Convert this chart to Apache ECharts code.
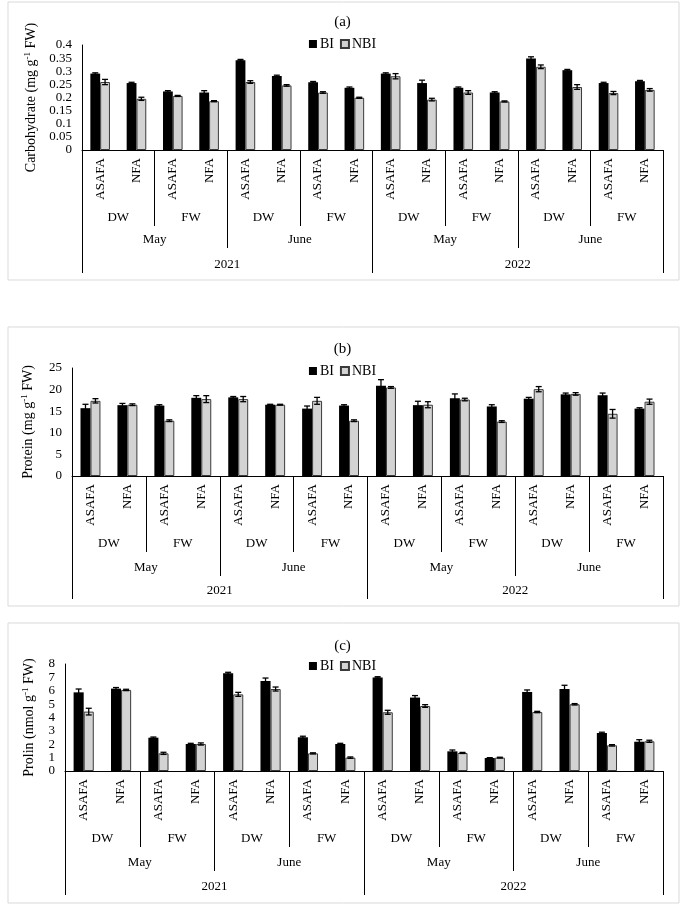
<!DOCTYPE html>
<html><head><meta charset="utf-8">
<script src="https://cdn.jsdelivr.net/npm/echarts@6/dist/echarts.min.js"></script>
<style>html,body{margin:0;padding:0;background:#fff}#c{width:685px;height:911px}</style>
</head><body><div id="c"></div>
<script>
// ---- categories (multi-level x axis) ----
const treatments = ['ASAFA','NFA','ASAFA','NFA','ASAFA','NFA','ASAFA','NFA','ASAFA','NFA','ASAFA','NFA','ASAFA','NFA','ASAFA','NFA'];
const waterTypes = ['DW','FW','DW','FW','DW','FW','DW','FW'];
const months = ['May','June','May','June'];
const years = ['2021','2022'];
const seriesNames = ['BI','NBI'];

// ---- (a) Carbohydrate ----
const carbBI     = [0.291,0.255,0.223,0.219,0.342,0.282,0.258,0.237, 0.291,0.255,0.237,0.219,0.349,0.304,0.255,0.262];
const carbNBI    = [0.259,0.195,0.206,0.186,0.259,0.246,0.219,0.199, 0.281,0.192,0.219,0.185,0.317,0.240,0.217,0.229];
const carbBIErr  = [0.003,0.003,0.003,0.007,0.003,0.003,0.003,0.003, 0.003,0.011,0.003,0.003,0.006,0.003,0.003,0.003];
const carbNBIErr = [0.010,0.006,0.002,0.002,0.005,0.003,0.003,0.002, 0.010,0.005,0.007,0.002,0.007,0.009,0.006,0.005];

// ---- (b) Protein ----
const protBI     = [15.7,16.4,16.3,18.1,18.2,16.5,15.6,16.3, 20.9,16.4,18.0,16.1,17.9,18.9,18.7,15.6];
const protNBI    = [17.4,16.5,12.8,17.8,17.8,16.5,17.4,12.8, 20.5,16.5,17.7,12.6,20.1,19.0,14.4,17.2];
const protBIErr  = [0.9,0.4,0.2,0.5,0.2,0.1,0.6,0.2, 1.4,0.9,1.0,0.4,0.3,0.3,0.5,0.2];
const protNBIErr = [0.5,0.2,0.2,0.8,0.6,0.1,0.8,0.2, 0.2,0.7,0.3,0.2,0.6,0.3,1.0,0.6];

// ---- (c) Prolin ----
const proBI     = [5.88,6.16,2.49,2.02,7.30,6.73,2.52,2.02, 7.00,5.49,1.47,0.97,5.91,6.13,2.84,2.19];
const proNBI    = [4.44,6.06,1.32,2.02,5.73,6.13,1.32,1.00, 4.39,4.86,1.35,1.00,4.41,4.99,1.92,2.22];
const proBIErr  = [0.25,0.08,0.05,0.05,0.08,0.22,0.08,0.05, 0.05,0.15,0.10,0.03,0.15,0.28,0.06,0.15];
const proNBIErr = [0.25,0.05,0.08,0.08,0.15,0.15,0.04,0.05, 0.15,0.10,0.04,0.03,0.05,0.05,0.05,0.08];

const FONT = '"Liberation Serif","Times New Roman",serif';

const panels = [
  {letter:'(a)', name:'{a|Carbohydrate (mg g}{s|-1}{a| FW)}', bi:carbBI, nbi:carbNBI, biErr:carbBIErr, nbiErr:carbNBIErr,
   min:0, max:0.4, interval:0.05, grid:{left:82, top:45, right:22, height:105}, titleTop:10, legendTop:32,
   offsets:[76,98,123], nameGap:42, box:[8,2,671,278]},
  {letter:'(b)', name:'{a|Protein (mg g}{s|-1}{a| FW)}', bi:protBI, nbi:protNBI, biErr:protBIErr, nbiErr:protNBIErr,
   min:0, max:25, interval:5, grid:{left:72, top:368, right:22, height:108}, titleTop:337, legendTop:359,
   offsets:[76,100,123], nameGap:36, box:[8,327,671,279]},
  {letter:'(c)', name:'{a|Prolin (nmol g}{s|-1}{a| FW)}', bi:proBI, nbi:proNBI, biErr:proBIErr, nbiErr:proNBIErr,
   min:0, max:8, interval:1, grid:{left:65, top:664, right:22, height:107}, titleTop:634, legendTop:654,
   offsets:[76,100,124], nameGap:28, box:[8,623,671,280]}
];

const option = {
  backgroundColor:'#fff', animation:false,
  textStyle:{fontFamily:FONT, color:'#000'},
  title:[], legend:[], grid:[], xAxis:[], yAxis:[], series:[], graphic:[]
};

function errRender(sign){
  return function(params, api){
    const idx = api.value(0), v = api.value(1), e = api.value(2);
    const band = api.size([1,0])[0];
    const x = api.coord([idx, v])[0] + sign*band*0.135;
    const yt = api.coord([idx, v+e])[1];
    const yb = api.coord([idx, v-e])[1];
    const cap = 3;
    const st = {stroke:'#000', lineWidth:1.3};
    return {type:'group', children:[
      {type:'line', shape:{x1:x, y1:yt, x2:x, y2:yb}, style:st},
      {type:'line', shape:{x1:x-cap, y1:yt, x2:x+cap, y2:yt}, style:st},
      {type:'line', shape:{x1:x-cap, y1:yb, x2:x+cap, y2:yb}, style:st}
    ]};
  };
}

panels.forEach((p, gi) => {
  option.graphic.push({type:'rect', shape:{x:p.box[0], y:p.box[1], width:p.box[2], height:p.box[3]},
    style:{fill:'none', stroke:'#d9d9d9', lineWidth:1}, silent:true, z:-1});
  option.title.push({text:p.letter, left:'center', top:p.titleTop,
    textStyle:{fontFamily:FONT, fontSize:15, fontWeight:'normal', color:'#000'}});
  option.legend.push({data:seriesNames, left:'center', top:p.legendTop, itemWidth:8, itemHeight:8, itemGap:6,
    icon:'rect', textStyle:{fontFamily:FONT, fontSize:14, color:'#000', padding:[0,0,0,-2]}});
  option.grid.push(Object.assign({containLabel:false}, p.grid));
  const base = gi*4;
  // level 0 : treatments
  option.xAxis.push({type:'category', gridIndex:gi, data:treatments, position:'bottom',
    axisLine:{show:true, lineStyle:{color:'#000', width:1}}, axisTick:{show:false},
    axisLabel:{interval:0, rotate:90, margin:8, fontFamily:FONT, fontSize:13, color:'#000'}});
  const levels = [waterTypes, months, years];
  levels.forEach((lv, li) => {
    option.xAxis.push({type:'category', gridIndex:gi, data:lv, position:'bottom', offset:p.offsets[li],
      axisLine:{show:false},
      axisTick:{show:true, inside:true, interval:0, length:p.offsets[li], lineStyle:{color:'#000', width:1}},
      axisLabel:{interval:0, inside:true, margin:2, fontFamily:FONT, fontSize:13, color:'#000'}});
  });
  option.yAxis.push({type:'value', gridIndex:gi, min:p.min, max:p.max, interval:p.interval,
    axisLine:{show:true, lineStyle:{color:'#000', width:1}}, axisTick:{show:false}, splitLine:{show:false},
    axisLabel:{fontFamily:FONT, fontSize:13, color:'#000', margin:10},
    name:p.name, nameLocation:'middle', nameRotate:90, nameGap:p.nameGap,
    nameTextStyle:{rich:{a:{fontFamily:FONT, fontSize:14, color:'#000', lineHeight:16},
                          s:{fontFamily:FONT, fontSize:9, color:'#000', lineHeight:16, verticalAlign:'top'}}}});
  option.series.push({name:'BI', type:'bar', xAxisIndex:base, yAxisIndex:gi, data:p.bi,
    barWidth:'27%', barGap:'0%', itemStyle:{color:'#000'}});
  option.series.push({name:'NBI', type:'bar', xAxisIndex:base, yAxisIndex:gi, data:p.nbi,
    barWidth:'27%', barGap:'0%', itemStyle:{color:'#d3d3d3', borderColor:'#3a3a3a', borderWidth:1}});
  option.series.push({type:'custom', xAxisIndex:base, yAxisIndex:gi, z:5,
    data:p.bi.map((v,i)=>[i, v, p.biErr[i]]), renderItem:errRender(-1), encode:{x:0, y:1}});
  option.series.push({type:'custom', xAxisIndex:base, yAxisIndex:gi, z:5,
    data:p.nbi.map((v,i)=>[i, v, p.nbiErr[i]]), renderItem:errRender(1), encode:{x:0, y:1}});
});

const chart = echarts.init(document.getElementById('c'), null, {renderer:'canvas'});
chart.setOption(option);
</script></body></html>
